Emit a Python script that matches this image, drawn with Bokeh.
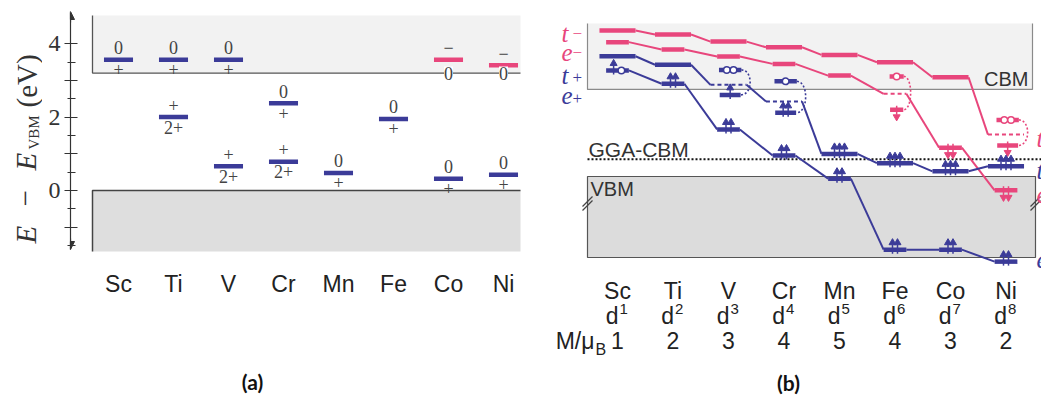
import numpy as np
from bokeh.plotting import figure
from bokeh.models import FixedTicker, LabelSet, ColumnDataSource, Arrow, NormalHead, Range1d
from bokeh.layouts import row
from bokeh.embed import file_html
from bokeh.resources import INLINE
from bokeh.core.properties import value

BLUE = "#3b3b98"
PINK = "#e8467c"
INK = "#333333"

# ======================= data =======================
elements = ["Sc", "Ti", "V", "Cr", "Mn", "Fe", "Co", "Ni"]

# ---- panel (a): defect transition levels, E - E_VBM (eV)
donor_elem = ["Sc", "Ti", "Ti", "V", "V", "Cr", "Cr", "Mn", "Fe", "Co", "Ni"]
donor_E = [3.56, 3.56, 2.00, 3.56, 0.66, 2.38, 0.78, 0.48, 1.95, 0.32, 0.43]
donor_upper = ["0", "0", "+", "0", "+", "0", "+", "0", "0", "0", "0"]
donor_lower = ["+", "+", "2+", "+", "2+", "+", "2+", "+", "+", "+", "+"]
acceptor_elem = ["Co", "Ni"]
acceptor_E = [3.56, 3.41]
acceptor_upper = ["−", "−"]
acceptor_lower = ["0", "0"]
cbm_a = 3.2
vbm_a = 0.0
y_ticks_a = [-1, 0, 1, 2, 3, 4]
y_minor_a = [-1.5, -0.5, 0.5, 1.5, 2.5, 3.5]
y_labeled_a = [0, 2, 4]

# ---- panel (b): one-electron levels (schematic energy, eV above VBM)
d_count = [1, 2, 3, 4, 5, 6, 7, 8]
moment = [1, 2, 3, 4, 5, 4, 3, 2]
t_minus_E = [5.37, 5.22, 4.96, 4.75, 4.47, 4.20, 3.65, 1.54]
e_minus_E = [4.94, 4.67, 4.41, 4.14, 3.71, 3.04, 1.06, -0.51]
t_plus_E = [4.42, 4.11, 3.37, 2.76, 0.83, 0.49, 0.19, 0.38]
e_plus_E = [3.90, 3.41, 1.73, 0.77, -0.08, -2.69, -2.69, -3.13]
t_minus_occ = [0, 0, 0, 0, 0, 0, 0, 0]
e_minus_occ = [0, 0, 0, 0, 0, 0, 2, 2]
t_plus_occ = [0, 0, 0, 0, 3, 3, 3, 3]
e_plus_occ = [1, 2, 2, 2, 2, 2, 2, 2]
e_plus_holes = [1, 0, 0, 0, 0, 0, 0, 0]
# split (partially filled) levels
split_series = ["t+", "t+", "e-", "t-"]
split_elem = ["V", "Cr", "Fe", "Ni"]
split_upper_E = [3.92, 3.50, 3.68, 2.08]
split_lower_E = [3.00, 2.34, 2.45, 1.14]
split_upper_holes = [2, 1, 1, 2]
split_lower_occ = [1, 2, 1, 1]
cbm_b = 3.2
gga_cbm_b = 0.63
vbm_b = 0.0

H = 399

# ======================= panel (a) =======================
AX0, AXS = 118.0, 55.0
AY0, AYS = 190.0, 36.7
def ax(px): return (px - AX0) / AXS
def ay(py): return (AY0 - py) / AYS

# y-axis title strip
p0 = figure(width=42, height=H, x_range=Range1d(0, 42), y_range=Range1d(ay(H), ay(0)),
            output_backend="svg", toolbar_location=None, x_axis_type=None, y_axis_type=None,
            min_border=0)
p0.grid.visible = False
p0.outline_line_color = None
serif = value("Liberation Serif")
title_parts = ["E", "−", "E", "VBM", "(eV)"]
title_style = ["italic", "normal", "italic", "normal", "normal"]
title_size = ["29px", "29px", "29px", "15px", "29px"]
title_start = [243, 206, 170, 149, 107]
title_mid = [25, 25, 25, 33, 26]
for t, st, sz, y0, xm in zip(title_parts, title_style, title_size, title_start, title_mid):
    p0.text(x=[xm], y=[ay(y0)], text=[t], angle=np.pi / 2, text_font=serif, text_font_style=st,
            text_font_size=sz, text_color=INK, text_align="left", text_baseline="middle")

pa = figure(width=498, height=H, x_range=Range1d(ax(70), ax(535)),
            y_range=Range1d(ay(H), ay(0)), output_backend="svg",
            toolbar_location=None, min_border_left=28, min_border_right=5,
            min_border_top=0, min_border_bottom=0, x_axis_type=None)
pa.grid.visible = False
pa.outline_line_color = None

box_l, box_r = ax(92), ax(520)
pa.quad(left=box_l, right=box_r, bottom=cbm_a, top=ay(15), fill_color="#f2f2f2", line_color=None)
pa.quad(left=box_l, right=box_r, bottom=ay(251), top=vbm_a, fill_color="#dedede", line_color=None)
pa.line([box_l, box_l, box_r], [ay(15), cbm_a, cbm_a], line_color="#555555", line_width=1.3)
pa.line([box_l, box_l, box_r], [ay(251), vbm_a, vbm_a], line_color="#444444", line_width=1.5)

LW_A = 0.264
dx_ = [elements.index(e) for e in donor_elem]
pa.segment(x0=[x - LW_A for x in dx_], x1=[x + LW_A for x in dx_], y0=donor_E, y1=donor_E,
           line_color=BLUE, line_width=4.5, line_cap="butt")
ax_ = [elements.index(e) for e in acceptor_elem]
pa.segment(x0=[x - LW_A for x in ax_], x1=[x + LW_A for x in ax_], y0=acceptor_E, y1=acceptor_E,
           line_color=PINK, line_width=4.5, line_cap="butt")

lab_kw = dict(text_align="center", text_baseline="middle", text_font=serif,
              text_font_size="18px", text_color="#444444")
pa.text(x=dx_, y=donor_E, text=donor_upper, y_offset=-12, **lab_kw)
pa.text(x=dx_, y=donor_E, text=donor_lower, y_offset=10, **lab_kw)
pa.text(x=ax_, y=acceptor_E, text=acceptor_upper, y_offset=-12, **lab_kw)
src0 = ColumnDataSource(dict(x=ax_, y=[cbm_a] * len(ax_), t=acceptor_lower))
pa.add_layout(LabelSet(x="x", y="y", text="t", source=src0, text_align="center",
                       text_baseline="middle", text_font="Liberation Serif", text_font_size="18px",
                       text_color="#444444", background_fill_color="white"))

# y axis
pa.yaxis.ticker = FixedTicker(ticks=y_ticks_a, minor_ticks=y_minor_a)
pa.yaxis.major_label_overrides = {t: (str(t) if t in y_labeled_a else "") for t in y_ticks_a}
pa.yaxis.bounds = (ay(249), ay(12))
pa.yaxis.axis_line_color = INK
pa.yaxis.axis_line_width = 1.2
pa.yaxis.major_tick_line_color = INK
pa.yaxis.minor_tick_line_color = INK
pa.yaxis.major_tick_in = 7
pa.yaxis.major_tick_out = 6
pa.yaxis.minor_tick_in = 5
pa.yaxis.minor_tick_out = 3
pa.yaxis.major_label_text_font = "Liberation Serif"
pa.yaxis.major_label_text_font_size = "24px"
pa.yaxis.major_label_text_color = INK
pa.yaxis.major_label_standoff = 4

x_axis_pos = ax(70)
for ys, ye in ((ay(22), ay(11)), (ay(238), ay(249))):
    pa.add_layout(Arrow(end=NormalHead(size=8, fill_color=INK, line_color=INK), x_start=x_axis_pos,
                        y_start=ys, x_end=x_axis_pos, y_end=ye, line_color=INK, line_width=1.2))

ks = list(range(len(elements)))
pa.text(x=ks, y=[ay(283)] * 8, text=elements, text_align="center", text_baseline="middle",
        text_font=value("Liberation Sans"), text_font_size="23px", text_color="#222222")
pa.text(x=[ax(252)], y=[ay(381)], text=["(a)"], text_align="center", text_baseline="middle",
        text_font=value("Lato"), text_font_style="bold", text_font_size="21px", text_color="#111111")

# ======================= panel (b) =======================
BX0, BXS = 617.0, 55.5
BY0, BYS = 176.0, 27.2
def bx(px): return (px - BX0) / BXS
def by(py): return (BY0 - py) / BYS
def dxb(p): return p / BXS
def dyb(p): return p / BYS

pb = figure(width=501, height=H, x_range=Range1d(bx(540), bx(1041)),
            y_range=Range1d(by(H), by(0)), output_backend="svg", toolbar_location=None,
            x_axis_type=None, y_axis_type=None, min_border=0)
pb.grid.visible = False
pb.outline_line_color = None

L, R = bx(587), bx(1032)
pb.quad(left=L, right=R, bottom=cbm_b, top=by(23), fill_color="#f2f2f2", line_color=None)
pb.line([L, L, R, R], [by(23), cbm_b, cbm_b, by(23)], line_color="#8a8a8a", line_width=1.2)
RV = bx(1035)
pb.quad(left=L, right=RV, bottom=by(257), top=vbm_b, fill_color="#dcdcdc",
        line_color="#555555", line_width=1.2)
pb.segment(x0=[L], x1=[bx(1041)], y0=[gga_cbm_b], y1=[gga_cbm_b], line_color="#111111",
           line_width=2, line_dash="2 2")
for xb in (L, RV):
    pb.segment(x0=[xb - dxb(5)] * 2, x1=[xb + dxb(5)] * 2, y0=[by(206), by(210)],
               y1=[by(196), by(200)], line_color="#444444", line_width=1.2)

WIDTH = {"t": 0.65, "e": 0.41}
series = [
    dict(name="t-", E=t_minus_E, occ=t_minus_occ, holes=[0] * 8, kind="t", color=PINK, spin=-1),
    dict(name="e-", E=e_minus_E, occ=e_minus_occ, holes=[0] * 8, kind="e", color=PINK, spin=-1),
    dict(name="t+", E=t_plus_E, occ=t_plus_occ, holes=[0] * 8, kind="t", color=BLUE, spin=1),
    dict(name="e+", E=e_plus_E, occ=e_plus_occ, holes=e_plus_holes, kind="e", color=BLUE, spin=1),
]
splits = {(s, elements.index(e)): (u, lo, uh, lo_n) for s, e, u, lo, uh, lo_n in
          zip(split_series, split_elem, split_upper_E, split_lower_E, split_upper_holes, split_lower_occ)}

def items(center, n_el, n_h):
    its = ["el"] * n_el + ["h"] * n_h
    N = len(its)
    s = 0.14 if (n_el and n_h) else (0.09 if n_h == 0 else 0.12)
    return [(center + (i - (N - 1) / 2) * s, it) for i, it in enumerate(its)]

for s in series:
    w = WIDTH[s["kind"]]
    E = s["E"]
    c = s["color"]
    n = len(E)
    pb.segment(x0=[k + w / 2 for k in range(n - 1)], y0=E[:-1],
               x1=[k + 1 - w / 2 for k in range(n - 1)], y1=E[1:],
               line_color=c, line_width=2)
    lv_x0, lv_x1, lv_y = [], [], []
    ds_x0, ds_x1, ds_y = [], [], []
    bz = dict(x0=[], y0=[], x1=[], y1=[], cx0=[], cy0=[], cx1=[], cy1=[])
    placed = []
    for k in range(n):
        key = (s["name"], k)
        if key in splits:
            up, lo, uh, lon = splits[key]
            ds_x0.append(k - w / 2); ds_x1.append(k + w / 2); ds_y.append(E[k])
            wu, wl = 0.62 * w, 0.58 * w
            cu = cl = k + 0.03
            lv_x0 += [cu - wu / 2, cl - wl / 2]; lv_x1 += [cu + wu / 2, cl + wl / 2]; lv_y += [up, lo]
            bz["x0"].append(cu + wu / 2); bz["y0"].append(up)
            bz["x1"].append(cl + wl / 2); bz["y1"].append(lo)
            bz["cx0"].append(k + w / 2 + 0.12); bz["cy0"].append(up)
            bz["cx1"].append(k + w / 2 + 0.12); bz["cy1"].append(lo)
            placed += [(x, up, it) for x, it in items(cu, 0, uh)]
            placed += [(x, lo, it) for x, it in items(cl, lon, 0)]
        else:
            lv_x0.append(k - w / 2); lv_x1.append(k + w / 2); lv_y.append(E[k])
            placed += [(x, E[k], it) for x, it in items(k, s["occ"][k], s["holes"][k])]
    if ds_y:
        pb.segment(x0=ds_x0, x1=ds_x1, y0=ds_y, y1=ds_y, line_color=c, line_width=2,
                   line_dash="4 3")
        pb.bezier(line_color=c, line_width=1.6, line_dash="2 2", **bz)
    pb.segment(x0=lv_x0, x1=lv_x1, y0=lv_y, y1=lv_y, line_color=c, line_width=4.5,
               line_cap="butt")
    ex = [p[0] for p in placed if p[2] == "el"]
    ey = [p[1] for p in placed if p[2] == "el"]
    sp = s["spin"]
    if ex:
        pb.segment(x0=ex, x1=ex, y0=[y - sp * dyb(4) for y in ey], y1=[y + sp * dyb(5) for y in ey],
                   line_color=c, line_width=1.5)
        pb.scatter(ex, [y + sp * dyb(7) for y in ey],
                   marker="triangle" if sp > 0 else "inverted_triangle", size=7,
                   fill_color=c, line_color=c)
    hx = [p[0] for p in placed if p[2] == "h"]
    hy = [p[1] for p in placed if p[2] == "h"]
    if hx:
        pb.scatter(hx, hy, marker="circle", size=6.5, fill_color="white", line_color=c,
                   line_width=1.5)

sans = value("Liberation Sans")
pb.text(x=[bx(1028)], y=[by(78)], text=["CBM"], text_align="right", text_baseline="middle",
        text_font=sans, text_font_size="20px", text_color=INK)
pb.text(x=[bx(588)], y=[by(149)], text=["GGA-CBM"], text_align="left", text_baseline="middle",
        text_font=sans, text_font_size="21px", text_color=INK)
pb.text(x=[bx(590)], y=[by(188)], text=["VBM"], text_align="left", text_baseline="middle",
        text_font=sans, text_font_size="20px", text_color=INK)

orb_letters = ["t", "e", "t", "e"]
orb_subs = ["−", "−", "+", "+"]
orb_colors = [PINK, PINK, BLUE, BLUE]
pb.text(x=[bx(561)] * 4, y=[by(p) for p in (33, 52, 75, 95)], text=orb_letters,
        text_color=orb_colors, text_align="left", text_baseline="alphabetic",
        text_font=serif, text_font_style="italic", text_font_size="25px")
pb.text(x=[bx(572)] * 4, y=[by(p) for p in (33, 52, 77, 98)], text=orb_subs,
        text_color=orb_colors, text_align="left", text_baseline="middle",
        text_font=serif, text_font_size="17px")
# right-hand orbital labels (cut by the edge, as in the original)
pb.text(x=[bx(1036)] * 4, y=[by(p) for p in (138, 170, 194, 259)], text=["t", "t", "e", "e"],
        text_color=[PINK, BLUE, PINK, BLUE], text_align="left", text_baseline="alphabetic",
        text_font=serif, text_font_style="italic", text_font_size="25px")

pb.text(x=ks, y=[by(290)] * 8, text=elements, text_align="center", text_baseline="middle",
        text_font=sans, text_font_size="23px", text_color="#222222")
pb.text(x=[k + dxb(1) for k in ks], y=[by(315)] * 8, text=["d"] * 8, text_align="right",
        text_baseline="middle", text_font=sans, text_font_size="23px", text_color="#222222")
pb.text(x=[k + dxb(2) for k in ks], y=[by(308)] * 8, text=[str(d) for d in d_count],
        text_align="left", text_baseline="middle", text_font=sans, text_font_size="15px",
        text_color="#222222")
pb.text(x=ks, y=[by(340)] * 8, text=[str(m) for m in moment], text_align="center",
        text_baseline="middle", text_font=sans, text_font_size="23px", text_color="#222222")
pb.text(x=[bx(594)], y=[by(340)], text=["M/μ"], text_align="right", text_baseline="middle",
        text_font=sans, text_font_size="23px", text_color="#222222")
pb.text(x=[bx(595)], y=[by(349)], text=["B"], text_align="left", text_baseline="middle",
        text_font=sans, text_font_size="16px", text_color="#222222")
pb.text(x=[bx(788)], y=[by(382)], text=["(b)"], text_align="center", text_baseline="middle",
        text_font=value("Lato"), text_font_style="bold", text_font_size="21px", text_color="#111111")

layout = row(p0, pa, pb)
open("out.html", "w").write(file_html(layout, INLINE))
